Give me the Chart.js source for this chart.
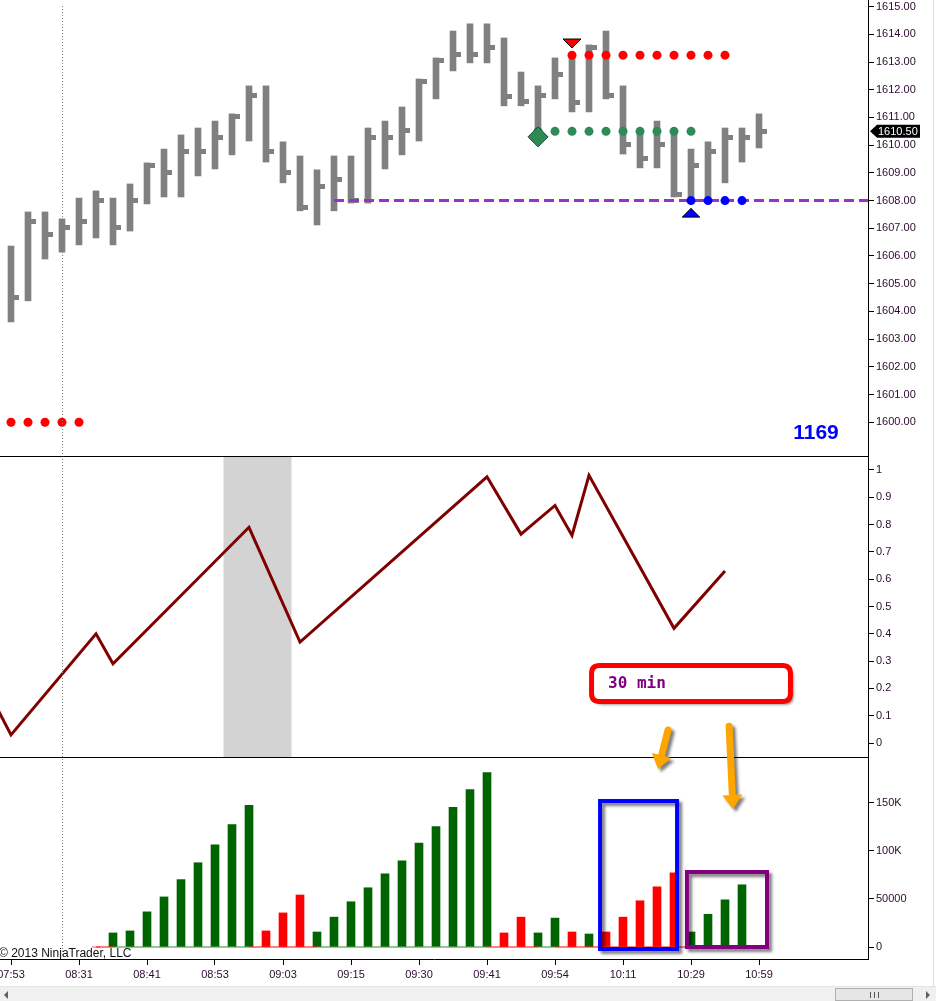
<!DOCTYPE html>
<html>
<head>
<meta charset="utf-8">
<title>ES 1 min - swing volume</title>
<script src="https://cdn.jsdelivr.net/npm/chart.js@4.4.1/dist/chart.umd.min.js"></script>
<style>
  html, body { margin: 0; padding: 0; background: #fff; }
  #wrap { position: relative; width: 936px; height: 1001px; overflow: hidden; background: #fff; }
  #chart { position: absolute; left: 0; top: 0; }
  #edge { position: absolute; left: 933px; top: 0; width: 1px; height: 986px; background: #dedede; }
  #scroll { position: absolute; left: 0; top: 986px; width: 936px; height: 15px; background: #f0f0f0; border-top: 1px solid #e4e4e4; }
  #scroll .arrowL { position: absolute; left: 4px; top: 4px; width: 0; height: 0;
    border-top: 4px solid transparent; border-bottom: 4px solid transparent; border-right: 4px solid #606060; }
  #scroll .arrowR { position: absolute; left: 926px; top: 4px; width: 0; height: 0;
    border-top: 4px solid transparent; border-bottom: 4px solid transparent; border-left: 4px solid #606060; }
  #scroll .thumb { position: absolute; left: 835px; top: 1px; width: 78px; height: 13px;
    background: #e6e6e6; border: 1px solid #b0b0b0; box-sizing: border-box; }
  #scroll .grip { position: absolute; left: 34px; top: 3px; width: 7px; height: 6px;
    border-left: 1px solid #555; border-right: 1px solid #555; }
  #scroll .grip:after { content: ''; position: absolute; left: 3px; top: 0; width: 1px; height: 6px; background: #555; }
</style>
</head>
<body>
<div id="wrap">
  <canvas id="chart" width="936" height="986"></canvas>
  <div id="edge"></div>
  <div id="scroll"><div class="arrowL"></div><div class="thumb"><div class="grip"></div></div><div class="arrowR"></div></div>
</div>
<script>
// ---- data (one entry per 1-min bar, bar 0 = 07:53) ----
const timeTickBars = [0, 4, 8, 12, 16, 20, 24, 28, 32, 36, 40, 44];
const timeLabels = ['07:53', '08:31', '08:41', '08:53', '09:03', '09:15', '09:30', '09:41', '09:54', '10:11', '10:29', '10:59'];

const highs = [1606.36, 1607.59, 1607.59, 1607.34, 1608.09, 1608.35, 1608.09, 1608.60, 1609.36, 1609.86,
               1610.37, 1610.62, 1610.87, 1611.13, 1612.14, 1612.14, 1610.12, 1609.61, 1609.11, 1609.61,
               1609.61, 1610.62, 1610.87, 1611.38, 1612.39, 1613.15, 1614.12, 1614.38, 1614.38, 1613.87,
               1612.64, 1612.14, 1613.15, 1613.26, 1613.62, 1614.12, 1612.14, 1610.55, 1610.87, 1610.55,
               1609.86, 1610.12, 1610.62, 1610.62, 1611.13];
const lows = [1603.62, 1604.38, 1605.89, 1606.14, 1606.40, 1606.65, 1606.40, 1606.90, 1607.88, 1608.13,
              1608.13, 1608.89, 1609.14, 1609.65, 1610.15, 1609.39, 1608.64, 1607.63, 1607.12, 1607.63,
              1607.91, 1607.91, 1609.14, 1609.65, 1610.15, 1611.67, 1612.68, 1612.97, 1612.97, 1611.42,
              1611.42, 1610.30, 1611.67, 1611.20, 1611.20, 1611.67, 1609.68, 1609.18, 1609.18, 1608.13,
              1608.02, 1608.13, 1608.64, 1609.39, 1609.90];
const closes = [1604.50, 1607.25, 1606.78, 1607.03, 1607.25, 1608.00, 1607.03, 1608.00, 1609.27, 1609.01,
                1609.77, 1609.77, 1610.27, 1611.04, 1611.79, 1609.77, 1609.01, 1607.75, 1608.50, 1608.75,
                1608.00, 1610.27, 1610.27, 1610.52, 1612.29, 1613.05, 1613.28, 1613.28, 1613.53, 1611.77,
                1611.58, 1611.78, 1612.55, 1611.53, 1613.52, 1611.78, 1610.03, 1609.53, 1610.03, 1608.23,
                1609.26, 1609.77, 1610.27, 1610.27, 1610.50];

const priceTicks = [1600, 1601, 1602, 1603, 1604, 1605, 1606, 1607, 1608, 1609, 1610, 1611, 1612, 1613, 1614, 1615];

// stop / target dots on the price panel
const lowStopBars = [0, 1, 2, 3, 4];
const lowStopPrice = 1600;
const highStopBars = [33, 34, 35, 36, 37, 38, 39, 40, 41, 42];
const highStopPrice = 1613.25;
const midDotBars = [31, 32, 33, 34, 35, 36, 37, 38, 39, 40];
const midDotPrice = 1610.5;
const blueDotBars = [40, 41, 42, 43];
const blueDotPrice = 1608;
const sellArrowBar = 33, sellArrowPrice = 1613.67;
const buyArrowBar = 40, buyArrowPrice = 1607.56;
const diamondBar = 31, diamondPrice = 1610.3;
const levelFromBar = 19, levelPrice = 1608;
const barCounter = '1169';

// swing oscillator (pivot bars and values)
const oscBars = [-1, 0, 5, 6, 14, 17, 28, 30, 32, 33, 34, 39, 42];
const oscValues = [0.15, 0.03, 0.40, 0.29, 0.79, 0.37, 0.975, 0.765, 0.87, 0.76, 0.98, 0.42, 0.63];
const oscTicks = [0, 0.1, 0.2, 0.3, 0.4, 0.5, 0.6, 0.7, 0.8, 0.9, 1];
const shadeFrom = 12.5, shadeTo = 16.5;

// cumulative swing volume, direction 1 = up swing, -1 = down swing
const volumes = [null, null, null, null, null, 0,
                 14600, 16700, 36500, 52000, 70000, 87500, 106000, 127000, 147000,
                 16700, 35400, 54000,
                 15600, 31000, 47000, 61500, 76000, 89600, 108000, 125000, 145000, 163500, 181000,
                 14600, 31000, 14600, 30000, 15600, 13500,
                 15600, 31000, 48000, 62500, 77000,
                 15600, 34000, 49000, 64600, null];
const volDir = [0, 0, 0, 0, 0, -1,
                1, 1, 1, 1, 1, 1, 1, 1, 1,
                -1, -1, -1,
                1, 1, 1, 1, 1, 1, 1, 1, 1, 1, 1,
                -1, -1, 1, 1, -1, 1,
                -1, -1, -1, -1, -1,
                1, 1, 1, 1, 1];
const volTicks = [0, 50000, 100000, 150000];
const volTickLabels = ['0', '50000', '100K', '150K'];

const cursorBar = 3;
const calloutText = '30 min';

// ---- layout ----
const xMin = -11 / 17;
const xMax = xMin + 868 / 17;
const axisFont = { family: "'Liberation Sans', Arial, sans-serif", size: 11 };
const axisColor = '#2c0a30';
const GRAY = '#808080', RED = '#ff0000', GREEN = '#2e8b57', VGREEN = '#006400', BLUE = '#0000ff';

// annotation placement in (bar, axis value) units
const calloutBox = { x0: 34.15, x1: 45.85, top: 0.284, bottom: 0.152 };
const calloutLabel = { x: 35.12, y: 0.216 };
const arrows = [
  { from: [38.65, 'yO', 0.048], to: [38.06, 'yV', 184800] },
  { from: [42.24, 'yO', 0.062], to: [42.47, 'yV', 143300] }
];
const boxes = [
  { x0: 34.65, x1: 39.18, bottom: -2100, top: 151600, color: '#0000ff' },
  { x0: 39.76, x1: 44.47, bottom: 0, top: 77900, color: '#800080' }
];

// close tick: small block to the right of each bar
function makeCloseTick() {
  const c = document.createElement('canvas');
  c.width = 18; c.height = 5;
  const g = c.getContext('2d');
  g.fillStyle = GRAY;
  g.fillRect(12, 0, 5, 5);
  return c;
}

function makeTriangle(fill, down) {
  const c = document.createElement('canvas');
  c.width = 20; c.height = 11;
  const g = c.getContext('2d');
  g.beginPath();
  if (down) {
    g.moveTo(1, 1); g.lineTo(19, 1); g.lineTo(10, 10);
  } else {
    g.moveTo(10, 1); g.lineTo(19, 10); g.lineTo(1, 10);
  }
  g.closePath();
  g.fillStyle = fill;
  g.fill();
  g.strokeStyle = '#000';
  g.lineWidth = 1;
  g.stroke();
  return c;
}

function dotSet(bars, price, color) {
  return {
    type: 'scatter', yAxisID: 'yP', order: 1,
    data: bars.map(b => ({ x: b, y: price })),
    pointRadius: 4.5, pointBackgroundColor: color, pointBorderWidth: 0
  };
}

function drawArrow(ctx, x0, y0, x1, y1) {
  const ang = Math.atan2(y1 - y0, x1 - x0);
  const headLen = 14, headW = 10, w = 7;
  const nx = -Math.sin(ang), ny = Math.cos(ang);
  const bx = x1 - Math.cos(ang) * headLen, by = y1 - Math.sin(ang) * headLen;
  ctx.beginPath();
  ctx.moveTo(bx + nx * w / 2, by + ny * w / 2);
  ctx.lineTo(bx + nx * headW, by + ny * headW);
  ctx.lineTo(x1, y1);
  ctx.lineTo(bx - nx * headW, by - ny * headW);
  ctx.lineTo(bx - nx * w / 2, by - ny * w / 2);
  ctx.lineTo(x0 - nx * w / 2, y0 - ny * w / 2);
  ctx.arc(x0, y0, w / 2, ang - Math.PI / 2, ang + Math.PI / 2, true);
  ctx.closePath();
  ctx.fill();
}

function roundRectPath(ctx, x, y, w, h, r) {
  ctx.beginPath();
  ctx.moveTo(x + r, y);
  ctx.lineTo(x + w - r, y);
  ctx.quadraticCurveTo(x + w, y, x + w, y + r);
  ctx.lineTo(x + w, y + h - r);
  ctx.quadraticCurveTo(x + w, y + h, x + w - r, y + h);
  ctx.lineTo(x + r, y + h);
  ctx.quadraticCurveTo(x, y + h, x, y + h - r);
  ctx.lineTo(x, y + r);
  ctx.quadraticCurveTo(x, y, x + r, y);
  ctx.closePath();
}

function setShadow(ctx) {
  ctx.shadowColor = 'rgba(0,0,0,0.5)';
  ctx.shadowOffsetX = 3;
  ctx.shadowOffsetY = 3;
  ctx.shadowBlur = 3;
}

const panelDecor = {
  id: 'panelDecor',
  beforeDatasetsDraw(chart) {
    const { ctx, scales: { x, yO } } = chart;
    const x0 = x.getPixelForValue(shadeFrom);
    const x1 = x.getPixelForValue(shadeTo);
    ctx.save();
    ctx.fillStyle = '#d3d3d3';
    ctx.fillRect(x0, yO.top, x1 - x0, yO.bottom - yO.top);
    ctx.restore();
  },
  afterDatasetsDraw(chart) {
    const { ctx, chartArea, scales: { x } } = chart;
    const cx = Math.round(x.getPixelForValue(cursorBar)) + 0.5;
    ctx.save();
    ctx.strokeStyle = '#808080';
    ctx.lineWidth = 1;
    ctx.setLineDash([1, 2]);
    ctx.beginPath();
    ctx.moveTo(cx, chartArea.top + 6);
    ctx.lineTo(cx, chartArea.bottom - 2);
    ctx.stroke();
    ctx.restore();
  },
  afterDraw(chart) {
    const { ctx, chartArea, scales } = chart;
    const { x, yP, yO, yV } = scales;
    ctx.save();

    // panel separators
    ctx.strokeStyle = '#000';
    ctx.lineWidth = 1;
    [yP, yO].forEach(s => {
      const y = Math.round(s.bottom) + 0.5;
      ctx.beginPath();
      ctx.moveTo(chartArea.left, y);
      ctx.lineTo(chartArea.right, y);
      ctx.stroke();
    });

    // bar counter
    ctx.fillStyle = BLUE;
    ctx.font = "bold 21px 'Liberation Sans', Arial, sans-serif";
    ctx.textAlign = 'center';
    ctx.textBaseline = 'middle';
    ctx.fillText(barCounter, chartArea.right - 52, yP.bottom - 23);

    // last price marker on the price axis
    const last = closes[closes.length - 1];
    const ly = yP.getPixelForValue(last);
    const ax = yP.left;
    ctx.fillStyle = '#000';
    ctx.beginPath();
    ctx.moveTo(ax + 2, ly);
    ctx.lineTo(ax + 9, ly - 6.5);
    ctx.lineTo(ax + 52, ly - 6.5);
    ctx.lineTo(ax + 52, ly + 6.5);
    ctx.lineTo(ax + 9, ly + 6.5);
    ctx.closePath();
    ctx.fill();
    ctx.fillStyle = '#fff';
    ctx.font = "11px 'Liberation Sans', Arial, sans-serif";
    ctx.textAlign = 'left';
    ctx.fillText(last.toFixed(2), ax + 10, ly + 0.5);

    // copyright
    ctx.fillStyle = '#111';
    ctx.font = "12px 'Liberation Sans', Arial, sans-serif";
    ctx.textBaseline = 'alphabetic';
    ctx.fillText('\u00a9 2013 NinjaTrader, LLC', chartArea.left - 1, yV.bottom - 2);

    // callout box
    const bx0 = x.getPixelForValue(calloutBox.x0), bx1 = x.getPixelForValue(calloutBox.x1);
    const by0 = yO.getPixelForValue(calloutBox.top), by1 = yO.getPixelForValue(calloutBox.bottom);
    ctx.save();
    setShadow(ctx);
    roundRectPath(ctx, bx0, by0, bx1 - bx0, by1 - by0, 8);
    ctx.fillStyle = '#fff';
    ctx.fill();
    ctx.restore();
    roundRectPath(ctx, bx0, by0, bx1 - bx0, by1 - by0, 8);
    ctx.strokeStyle = RED;
    ctx.lineWidth = 5;
    ctx.stroke();
    ctx.fillStyle = '#800080';
    ctx.font = "bold 16px 'DejaVu Sans Mono', 'Liberation Mono', monospace";
    ctx.textBaseline = 'middle';
    ctx.fillText(calloutText, x.getPixelForValue(calloutLabel.x), yO.getPixelForValue(calloutLabel.y));

    // highlight boxes on the volume panel
    boxes.forEach(b => {
      const rx0 = x.getPixelForValue(b.x0), rx1 = x.getPixelForValue(b.x1);
      const ry0 = yV.getPixelForValue(b.top), ry1 = yV.getPixelForValue(b.bottom);
      ctx.save();
      setShadow(ctx);
      ctx.strokeStyle = b.color;
      ctx.lineWidth = 4;
      ctx.strokeRect(rx0, ry0, rx1 - rx0, ry1 - ry0);
      ctx.restore();
    });

    // orange arrows
    ctx.save();
    setShadow(ctx);
    ctx.fillStyle = '#ffa500';
    arrows.forEach(a => {
      drawArrow(ctx,
        x.getPixelForValue(a.from[0]), scales[a.from[1]].getPixelForValue(a.from[2]),
        x.getPixelForValue(a.to[0]), scales[a.to[1]].getPixelForValue(a.to[2]));
    });
    ctx.restore();

    ctx.restore();
  }
};

function rightAxis(weight, min, max, tickValues, label) {
  return {
    type: 'linear', position: 'right', stack: 'panes', stackWeight: weight,
    min: min, max: max,
    grid: { drawOnChartArea: false, drawTicks: true, tickLength: 6, color: '#000' },
    border: { display: true, color: '#000', width: 1 },
    ticks: { autoSkip: false, padding: 2, color: axisColor, font: axisFont, callback: label },
    afterBuildTicks: s => { s.ticks = tickValues.map(v => ({ value: v })); },
    afterFit: s => { s.width = 68; s.paddingTop = 0; s.paddingBottom = 0; }
  };
}

Chart.defaults.font.family = "'Liberation Sans', Arial, sans-serif";

const closeTick = makeCloseTick();

new Chart(document.getElementById('chart'), {
  type: 'bar',
  data: {
    datasets: [
      {
        type: 'scatter', yAxisID: 'yP', order: 0,
        data: [{ x: sellArrowBar, y: sellArrowPrice }],
        pointStyle: makeTriangle(RED, true)
      },
      {
        type: 'scatter', yAxisID: 'yP', order: 0,
        data: [{ x: buyArrowBar, y: buyArrowPrice }],
        pointStyle: makeTriangle(BLUE, false)
      },
      {
        type: 'scatter', yAxisID: 'yP', order: 0,
        data: [{ x: diamondBar, y: diamondPrice }],
        pointStyle: 'rectRot', pointRadius: 10,
        pointBackgroundColor: GREEN, pointBorderColor: '#1d4a30', pointBorderWidth: 1
      },
      dotSet(lowStopBars, lowStopPrice, RED),
      dotSet(highStopBars, highStopPrice, RED),
      dotSet(midDotBars, midDotPrice, GREEN),
      dotSet(blueDotBars, blueDotPrice, BLUE),
      {
        type: 'line', yAxisID: 'yP', order: 2,
        data: [{ x: levelFromBar, y: levelPrice }, { x: xMax, y: levelPrice }],
        borderColor: '#9932cc', borderWidth: 3, borderDash: [10, 5], pointRadius: 0
      },
      {
        type: 'scatter', yAxisID: 'yP', order: 3,
        data: closes.map((c, i) => ({ x: i, y: c })),
        pointStyle: closeTick
      },
      {
        type: 'bar', yAxisID: 'yP', order: 4, grouped: false,
        data: highs.map((h, i) => ({ x: i, y: [lows[i], h] })),
        backgroundColor: GRAY, borderWidth: 0, barThickness: 6
      },
      {
        type: 'line', yAxisID: 'yO', order: 1,
        data: oscBars.map((b, i) => ({ x: b, y: oscValues[i] })),
        borderColor: '#800000', borderWidth: 3, pointRadius: 0, tension: 0
      },
      {
        type: 'line', yAxisID: 'yV', order: 3,
        data: volumes.map((v, i) => ({ x: i, y: v })).filter(p => p.y !== null).map(p => ({ x: p.x, y: 0 })),
        borderWidth: 1, pointRadius: 0,
        segment: {
          borderColor: c => (volDir[c.p0.parsed.x] < 0 || volDir[c.p1.parsed.x] < 0) ? RED : '#2e8b2e'
        }
      },
      {
        type: 'bar', yAxisID: 'yV', order: 4, grouped: false,
        data: volumes.map((v, i) => ({ x: i, y: v })),
        backgroundColor: volDir.map(d => d < 0 ? RED : VGREEN), borderWidth: 0, barThickness: 8
      }
    ]
  },
  options: {
    responsive: false,
    animation: false,
    events: [],
    layout: { padding: 0, autoPadding: false },
    plugins: { legend: { display: false }, tooltip: { enabled: false } },
    scales: {
      x: {
        type: 'linear', position: 'bottom', min: xMin, max: xMax, offset: false,
        grid: { drawOnChartArea: false, drawTicks: true, tickLength: 6, color: '#000', offset: false },
        border: { display: true, color: '#000', width: 1 },
        ticks: {
          autoSkip: false, maxRotation: 0, padding: 3, color: axisColor, font: axisFont,
          callback: (v, i) => timeLabels[i]
        },
        afterBuildTicks: s => { s.ticks = timeTickBars.map(v => ({ value: v })); },
        afterFit: s => { s.height = 27; s.paddingLeft = 0; s.paddingRight = 0; }
      },
      yP: rightAxis(456, 1598.78, 1615.24, priceTicks, v => v.toFixed(2)),
      yO: rightAxis(301, -0.051, 1.051, oscTicks, v => String(Math.round(v * 10) / 10)),
      yV: rightAxis(202, -12460, 197300, volTicks, (v, i) => volTickLabels[i])
    }
  },
  plugins: [panelDecor]
});
</script>
</body>
</html>
